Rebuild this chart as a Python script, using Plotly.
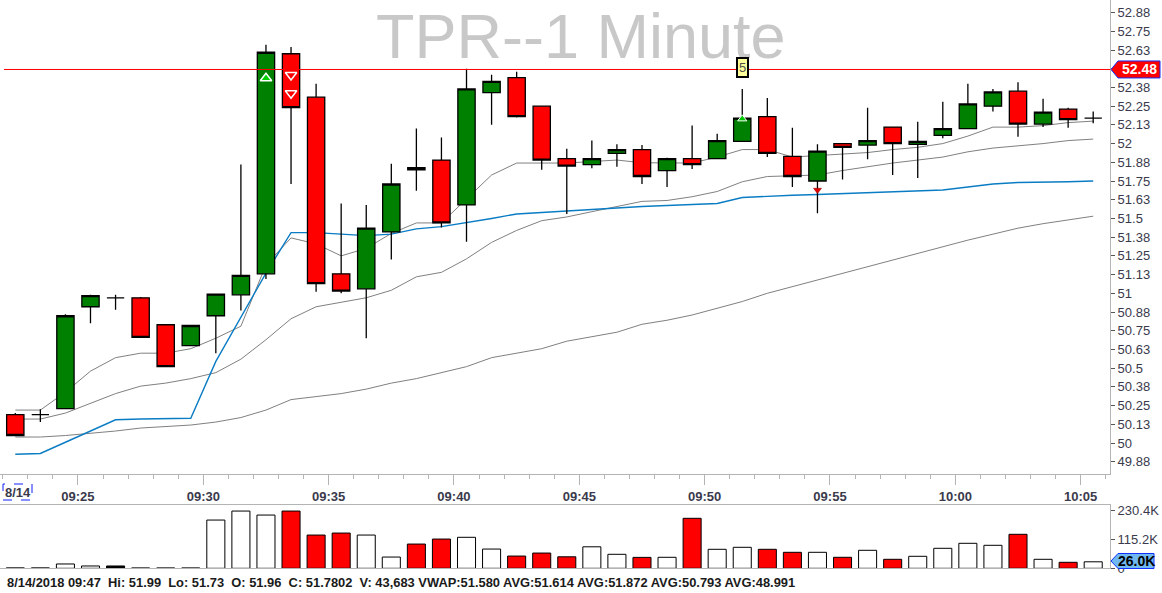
import plotly.graph_objects as go

DAY = "2018-08-14"

# one-minute bars, 09:22 .. 10:05
times = ["09:22", "09:23", "09:24", "09:25", "09:26", "09:27", "09:28", "09:29", "09:30", "09:31",
         "09:32", "09:33", "09:34", "09:35", "09:36", "09:37", "09:38", "09:39", "09:40", "09:41",
         "09:42", "09:43", "09:44", "09:45", "09:46", "09:47", "09:48", "09:49", "09:50", "09:51",
         "09:52", "09:53", "09:54", "09:55", "09:56", "09:57", "09:58", "09:59", "10:00", "10:01",
         "10:02", "10:03", "10:04", "10:05"]

opens = [50.19, 50.19, 50.23, 50.91, 50.97, 50.97, 50.79, 50.65, 50.85, 50.99,
         51.13, 52.60, 52.31, 51.13, 51.03, 51.41, 51.84, 51.89, 51.59, 52.34,
         52.44, 52.25, 51.90, 51.86, 51.935, 51.96, 51.82, 51.90, 51.90, 52.015,
         52.18, 51.915, 51.75, 52.00, 51.99, 52.11, 51.995, 52.055, 52.10, 52.25,
         52.35, 52.13, 52.23, 52.17]
highs = [50.20, 50.225, 50.86, 50.99, 50.99, 50.975, 50.795, 50.79, 50.995, 51.86,
         52.66, 52.645, 52.40, 51.60, 51.59, 51.865, 52.10, 52.04, 52.50, 52.46,
         52.48, 52.25, 51.965, 52.02, 51.995, 51.99, 51.905, 52.12, 52.065, 52.365,
         52.305, 52.105, 51.995, 52.00, 52.24, 52.11, 52.145, 52.28, 52.40, 52.365,
         52.41, 52.30, 52.24, 52.215]
lows = [50.045, 50.14, 50.23, 50.80, 50.89, 50.705, 50.51, 50.65, 50.60, 50.885,
        51.095, 51.73, 51.01, 51.00, 50.70, 51.225, 51.685, 51.44, 51.345, 52.125,
        52.175, 51.825, 51.53, 51.835, 51.845, 51.73, 51.71, 51.83, 51.90, 52.015,
        51.91, 51.71, 51.535, 51.76, 51.895, 51.79, 51.77, 52.035, 52.10, 52.215,
        52.045, 52.11, 52.105, 52.135]
closes = [50.05, 50.19, 50.85, 50.985, 50.97, 50.705, 50.51, 50.785, 50.995, 51.12,
          52.61, 52.24, 51.065, 51.015, 51.435, 51.73, 51.825, 51.47, 52.365, 52.415,
          52.18, 51.89, 51.85, 51.90, 51.96, 51.7802, 51.90, 51.86, 52.02, 52.17,
          51.935, 51.78, 51.95, 51.975, 52.02, 52.00, 52.015, 52.10, 52.265, 52.345,
          52.13, 52.21, 52.16, 52.17]
volumes = [1500, 1500, 17300, 9300, 9300, 1300, 1300, 1300, 193000, 229000,
           213000, 229000, 133000, 141000, 133000, 45000, 97000, 117000, 124000, 77000,
           49000, 61000, 46000, 86000, 56000, 43683, 44000, 200000, 76000, 84000,
           76000, 64000, 64000, 44000, 72000, 36000, 48000, 80000, 100000, 92000,
           136000, 36000, 24000, 26000]

# studies
vwap = [49.925, 49.93, 50.005, 50.08, 50.155, 50.16, 50.16, 50.165, 50.545, 50.845,
        51.135, 51.405, 51.405, 51.395, 51.385, 51.395, 51.43, 51.445, 51.47, 51.50,
        51.53, 51.54, 51.55, 51.555, 51.57, 51.58, 51.585, 51.59, 51.60, 51.64,
        51.65, 51.655, 51.66, 51.665, 51.67, 51.68, 51.685, 51.69, 51.71, 51.73,
        51.74, 51.745, 51.745, 51.75]
avg_fast = [50.22, 50.22, 50.34, 50.48, 50.57, 50.60, 50.60, 50.63, 50.70, 50.78,
            51.19, 51.37, 51.33, 51.25, 51.30, 51.40, 51.47, 51.47, 51.63, 51.79,
            51.87, 51.87, 51.87, 51.88, 51.89, 51.872, 51.87, 51.87, 51.91, 51.96,
            51.96, 51.91, 51.92, 51.93, 51.94, 51.96, 51.975, 52.00, 52.05, 52.11,
            52.11, 52.12, 52.14, 52.15]
avg_mid = [50.16, 50.16, 50.20, 50.265, 50.33, 50.38, 50.40, 50.43, 50.47, 50.56,
           50.69, 50.83, 50.91, 50.94, 50.97, 51.02, 51.11, 51.14, 51.23, 51.34,
           51.42, 51.485, 51.51, 51.545, 51.58, 51.614, 51.62, 51.645, 51.68, 51.745,
           51.78, 51.785, 51.79, 51.82, 51.845, 51.87, 51.89, 51.91, 51.945, 51.97,
           51.985, 52.00, 52.02, 52.03]
avg_slow = [50.04, 50.04, 50.05, 50.065, 50.08, 50.10, 50.11, 50.12, 50.14, 50.17,
            50.22, 50.29, 50.31, 50.33, 50.36, 50.40, 50.43, 50.47, 50.51, 50.57,
            50.60, 50.63, 50.68, 50.71, 50.74, 50.793, 50.82, 50.855, 50.90, 50.945,
            51.00, 51.045, 51.09, 51.135, 51.18, 51.22, 51.27, 51.31, 51.355, 51.395,
            51.435, 51.465, 51.49, 51.515]
avg_long_at_cursor = 48.991   # fourth average, off the visible scale

# signal markers
buy_times, buy_prices = ["09:32"], [52.436]
sell_times, sell_prices = ["09:33", "09:33"], [52.458, 52.336]
alert_up_times, alert_up_prices = ["09:51"], [52.165]
alert_dn_times, alert_dn_prices = ["09:54"], [51.69]
flag_time, flag_price, flag_text = "09:51", 52.505, "5"

alert_level = 52.495
price_tag = "52.48"
cursor_idx = 25

price_tick_vals = [49.875, 50.0, 50.125, 50.25, 50.375, 50.5, 50.625, 50.75, 50.875, 51.0,
                   51.125, 51.25, 51.375, 51.5, 51.625, 51.75, 51.875, 52.0, 52.125, 52.25,
                   52.375, 52.5, 52.625, 52.75, 52.875]
price_tick_text = ["49.88", "50", "50.13", "50.25", "50.38", "50.5", "50.63", "50.75", "50.88", "51",
                   "51.13", "51.25", "51.38", "51.5", "51.63", "51.75", "51.88", "52", "52.13", "52.25",
                   "52.38", "52.5", "52.63", "52.75", "52.88"]
vol_tick_vals = [0, 115200, 230400]
vol_tick_text = ["0", "115.2K", "230.4K"]

FONT = "Liberation Sans, Arial, sans-serif"
W, H, PLOT_W = 1162, 593, 1110
PERIOD = dict(xperiod=60000, xperiodalignment="middle")

PRICE_RANGE = [49.793, 52.959]
PRICE_DOMAIN = [1 - 474 / H, 1]
VOL_RANGE = [0, 253200]
VOL_DOMAIN = [1 - 568.3 / H, 1 - 505 / H]


def px_x(p):
    return p / PLOT_W


def px_y(p):
    return 1 - p / H


def to_paper(v, rng, dom):
    return dom[0] + (v - rng[0]) / (rng[1] - rng[0]) * (dom[1] - dom[0])


def stamp(t, sec="00"):
    return f"{DAY} {t}:{sec}"


def tag_path(yc, half_h, x_tip, x_body, x_end):
    """left-pointing price tag, paper coordinates"""
    y0, y1 = yc - half_h, yc + half_h
    return (f"M {px_x(x_tip)},{yc} L {px_x(x_body)},{y1} L {px_x(x_end)},{y1} "
            f"L {px_x(x_end)},{y0} L {px_x(x_body)},{y0} Z")


def build_figure():
    x = [stamp(t) for t in times]
    fig = go.Figure()

    # moving averages / vwap sit under the candles
    for series, color, width in [(avg_slow, "#808080", 1), (avg_mid, "#808080", 1),
                                 (avg_fast, "#808080", 1), (vwap, "#0a7cc4", 1.4)]:
        fig.add_trace(go.Scatter(x=x, y=series, mode="lines", line=dict(color=color, width=width),
                                 hoverinfo="skip", yaxis="y", **PERIOD))

    fig.add_trace(go.Candlestick(
        x=x, open=opens, high=highs, low=lows, close=closes,
        increasing=dict(fillcolor="#008000", line=dict(color="black", width=1.3)),
        decreasing=dict(fillcolor="#ff0000", line=dict(color="black", width=1.3)),
        whiskerwidth=0, hoverinfo="skip", yaxis="y3", **PERIOD))

    markers = [
        (buy_times, buy_prices, "triangle-up", 10, "#00d000", "white", 1.5),
        (sell_times, sell_prices, "triangle-down", 10, "#ff0000", "white", 1.5),
        (alert_up_times, alert_up_prices, "triangle-up", 8, "#00c800", "white", 1),
        (alert_dn_times, alert_dn_prices, "triangle-down", 7, "#e00000", "#900000", 0.5),
    ]
    for ts, ps, sym, size, fill, edge, lw in markers:
        fig.add_trace(go.Scatter(x=[stamp(t) for t in ts], y=ps, mode="markers",
                                 marker=dict(symbol=sym, size=size, color=fill,
                                             line=dict(color=edge, width=lw)),
                                 hoverinfo="skip", yaxis="y3", **PERIOD))

    # volume: red for down bars, white otherwise, black for the flat 09:26 bar
    vol_colors = ["#ff0000" if c < o else "white" for o, c in zip(opens, closes)]
    vol_colors[times.index("09:26")] = "black"
    fig.add_trace(go.Bar(x=x, y=volumes, marker=dict(color=vol_colors, line=dict(color="black", width=1)),
                         hoverinfo="skip", xaxis="x2", yaxis="y2", **PERIOD))

    axis_gray = "#b4b4b4"
    tick_font = dict(family=FONT, size=13, color="#3a3a4c")

    fig.update_layout(
        width=W, height=H,
        margin=dict(l=0, r=W - PLOT_W, t=0, b=0),
        paper_bgcolor="white", plot_bgcolor="white",
        showlegend=False, bargap=0.28, boxgap=0.0, boxgroupgap=0.31,
        font=dict(family=FONT),
        xaxis=dict(
            type="date", domain=[0, 1],
            range=[stamp("09:21", "53.4"), stamp("10:06", "10.2")],
            rangeslider=dict(visible=False),
            anchor="y", showgrid=False, zeroline=False,
            showline=True, mirror=True, linecolor=axis_gray, linewidth=1,
            tick0=stamp("09:25"), dtick=300000, tickformat="%H:%M",
            ticks="outside", ticklen=10, tickcolor=axis_gray,
            tickfont=dict(family=FONT, size=13, color="#3a3a4c", weight="bold"),
            minor=dict(dtick=60000, ticks="outside", ticklen=4, tickcolor=axis_gray, showgrid=False),
        ),
        yaxis=dict(
            domain=PRICE_DOMAIN, range=PRICE_RANGE, side="right", anchor="x",
            showgrid=False, zeroline=False, showline=True, linecolor=axis_gray,
            tickvals=price_tick_vals, ticktext=price_tick_text,
            ticks="outside", ticklen=4, tickcolor="#555555", tickfont=tick_font,
            automargin=False,
        ),
        yaxis3=dict(overlaying="y", range=PRICE_RANGE, visible=False, anchor="x"),
        xaxis2=dict(
            type="date", matches="x", anchor="y2", domain=[0, 1],
            showgrid=False, zeroline=False, showticklabels=False, ticks="",
            showline=True, mirror=True, linecolor=axis_gray, linewidth=1,
        ),
        yaxis2=dict(
            domain=VOL_DOMAIN, range=VOL_RANGE, side="right", anchor="x2",
            showgrid=False, zeroline=False, showline=True, linecolor=axis_gray,
            tickvals=vol_tick_vals, ticktext=vol_tick_text,
            ticks="outside", ticklen=4, tickcolor="#555555", tickfont=tick_font,
            automargin=False,
        ),
    )

    tag_y = to_paper(alert_level, PRICE_RANGE, PRICE_DOMAIN)
    vol_y = to_paper(volumes[-1], VOL_RANGE, VOL_DOMAIN) + 0.8 / H
    shapes = [
        # alert level
        dict(type="line", xref="paper", yref="y", x0=px_x(4), x1=1, y0=alert_level, y1=alert_level,
             line=dict(color="#ff0000", width=1)),
        # last price tag
        dict(type="path", xref="paper", yref="paper", path=tag_path(tag_y, 8.5 / H, 1111, 1118, 1160),
             fillcolor="#ff0000", line=dict(color="#1030ff", width=1)),
        # volume tag
        dict(type="path", xref="paper", yref="paper", path=tag_path(vol_y, 7.5 / H, 1111, 1118, 1154),
             fillcolor="#70b8f0", line=dict(color="#1030ff", width=1)),
        # date box
        dict(type="rect", xref="paper", yref="paper", x0=px_x(3), x1=px_x(32), y0=px_y(500), y1=px_y(484),
             line=dict(color="#1020ff", width=1, dash="dash")),
    ]
    fig.update_layout(shapes=shapes)

    c = cursor_idx
    status = (f"8/14/2018 {times[c]}\u00a0\u00a0Hi: {highs[c]:.2f}\u00a0\u00a0Lo: {lows[c]:.2f}"
              f"\u00a0\u00a0O: {opens[c]:.2f}\u00a0\u00a0C: {closes[c]:.4f}\u00a0\u00a0V: {volumes[c]:,} "
              f"VWAP:{vwap[c]:.3f} AVG:{avg_mid[c]:.3f} AVG:{avg_fast[c]:.3f} "
              f"AVG:{avg_slow[c]:.3f} AVG:{avg_long_at_cursor:.3f}")

    common = dict(showarrow=False, xanchor="center", yanchor="middle")
    annotations = [
        dict(text="TPR--1 Minute", xref="paper", yref="paper", x=px_x(581), y=px_y(36),
             font=dict(family=FONT, size=63, color="#c8c8c8"), **common),
        dict(text=flag_text, xref="x", yref="y", x=stamp(flag_time, "30"), y=flag_price,
             bgcolor="#ffff99", bordercolor="black", borderwidth=2, borderpad=1,
             font=dict(family=FONT, size=13, color="#505050"), **common),
        dict(text=price_tag, xref="paper", yref="paper", x=px_x(1139), y=tag_y,
             font=dict(family=FONT, size=14, color="white", weight="bold"), **common),
        dict(text=f"{volumes[-1] / 1000:.1f}K", xref="paper", yref="paper", x=px_x(1136), y=vol_y,
             font=dict(family=FONT, size=14, color="black", weight="bold"), **common),
        dict(text="8/14", xref="paper", yref="paper", x=px_x(18), y=px_y(492),
             font=dict(family=FONT, size=13, color="#3a3a4c", weight="bold"), **common),
        dict(text=status, xref="paper", yref="paper", x=px_x(5), y=px_y(582), showarrow=False,
             xanchor="left", yanchor="middle",
             font=dict(family=FONT, size=12.9, color="#1a1a1a", weight="bold")),
    ]
    fig.update_layout(annotations=annotations)
    return fig


def main():
    fig = build_figure()
    # the page's default 8px body margin would shift the whole chart
    fig.write_html("out.html", config={"displayModeBar": False},
                   post_script="document.body.style.margin='0px';")


if __name__ == "__main__":
    main()
